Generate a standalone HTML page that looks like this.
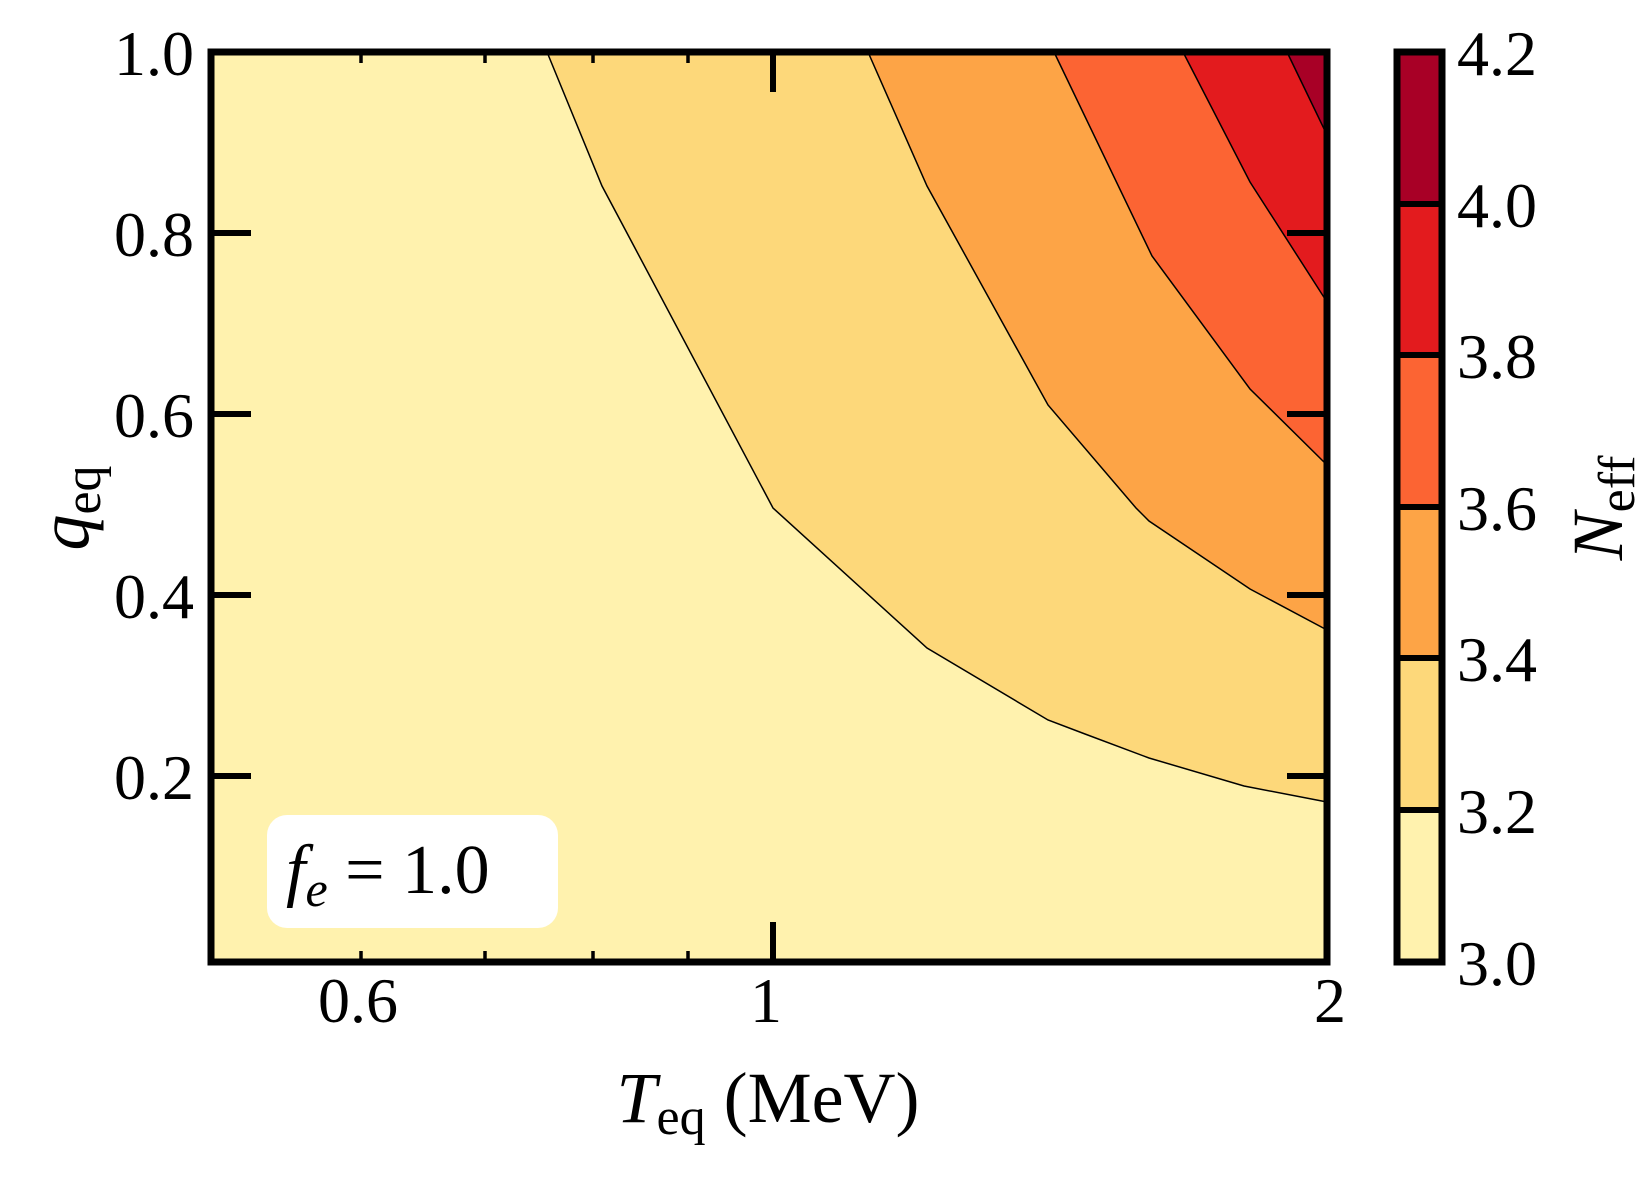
<!DOCTYPE html>
<html><head><meta charset="utf-8"><style>
html,body{margin:0;padding:0;background:#fff;}
svg{display:block;}
text{font-family:"Liberation Serif",serif;fill:#000;}
</style></head><body>
<svg width="1652" height="1179" viewBox="0 0 1652 1179" xmlns="http://www.w3.org/2000/svg">
<rect width="1652" height="1179" fill="#fff"/>
<rect x="211" y="52" width="1116" height="910" fill="#fff2ae"/>
<polygon points="547,52 602,186 773,508 927,648 1048,720 1085,734 1149,758 1244,786 1327,802 1327,52" fill="#fdd87a"/>
<polygon points="868,52 927,186 1048,405 1136,508 1149,521 1250,589 1327,630 1327,52" fill="#fda446"/>
<polygon points="1054,52 1152,256 1250,389 1327,465 1327,52" fill="#fc6433"/>
<polygon points="1183,52 1250,182 1327,302 1327,52" fill="#e31b1e"/>
<polygon points="1287,52 1327,135 1327,52" fill="#a80026"/>
<g fill="none" stroke="#000" stroke-width="1.5">
<polyline points="547,52 602,186 773,508 927,648 1048,720 1085,734 1149,758 1244,786 1327,802"/>
<polyline points="868,52 927,186 1048,405 1136,508 1149,521 1250,589 1327,630"/>
<polyline points="1054,52 1152,256 1250,389 1327,465"/>
<polyline points="1183,52 1250,182 1327,302"/>
<polyline points="1287,52 1327,135"/>
</g>
<rect x="267" y="815" width="291" height="113" rx="20" fill="#fff"/>
<text x="286" y="893" font-size="70" font-style="italic">f<tspan font-size="50" dy="13">e</tspan><tspan dy="-13" font-style="normal"> = 1.0</tspan></text>
<g stroke="#000" stroke-width="6">
<line x1="211" y1="233" x2="251" y2="233"/><line x1="211" y1="414" x2="251" y2="414"/><line x1="211" y1="595" x2="251" y2="595"/><line x1="211" y1="776" x2="251" y2="776"/>
<line x1="1327" y1="233" x2="1287" y2="233"/><line x1="1327" y1="414" x2="1287" y2="414"/><line x1="1327" y1="595" x2="1287" y2="595"/><line x1="1327" y1="776" x2="1287" y2="776"/>
<line x1="773" y1="962" x2="773" y2="922"/><line x1="773" y1="52" x2="773" y2="92"/>
</g>
<g stroke="#000" stroke-width="3.5">
<line x1="361" y1="962" x2="361" y2="951"/><line x1="485" y1="962" x2="485" y2="951"/><line x1="593" y1="962" x2="593" y2="951"/><line x1="688" y1="962" x2="688" y2="951"/>
<line x1="361" y1="52" x2="361" y2="63"/><line x1="485" y1="52" x2="485" y2="63"/><line x1="593" y1="52" x2="593" y2="63"/><line x1="688" y1="52" x2="688" y2="63"/>
</g>
<rect x="211" y="52" width="1116" height="910" fill="none" stroke="#000" stroke-width="7"/>
<g font-size="64" text-anchor="end">
<text x="194" y="75">1.0</text><text x="194" y="256">0.8</text><text x="194" y="437">0.6</text><text x="194" y="618">0.4</text><text x="194" y="799">0.2</text>
</g>
<g font-size="64" text-anchor="middle">
<text x="358" y="1022">0.6</text><text x="766" y="1022">1</text><text x="1330" y="1022">2</text>
</g>
<text x="768" y="1122" font-size="72" text-anchor="middle"><tspan font-style="italic">T</tspan><tspan font-size="52" dy="12">eq</tspan><tspan dy="-12"> (MeV)</tspan></text>
<text transform="translate(88,508) rotate(-90)" font-size="72" text-anchor="middle"><tspan font-style="italic">q</tspan><tspan font-size="52" dy="12">eq</tspan></text>
<rect x="1397" y="52" width="45" height="152" fill="#a80026"/>
<rect x="1397" y="204" width="45" height="151" fill="#e31b1e"/>
<rect x="1397" y="355" width="45" height="152" fill="#fc6433"/>
<rect x="1397" y="507" width="45" height="151" fill="#fda446"/>
<rect x="1397" y="658" width="45" height="152" fill="#fdd87a"/>
<rect x="1397" y="810" width="45" height="152" fill="#fff2ae"/>
<g stroke="#000" stroke-width="6">
<line x1="1397" y1="204" x2="1442" y2="204"/><line x1="1397" y1="355" x2="1442" y2="355"/><line x1="1397" y1="507" x2="1442" y2="507"/><line x1="1397" y1="658" x2="1442" y2="658"/><line x1="1397" y1="810" x2="1442" y2="810"/>
</g>
<rect x="1397" y="52" width="45" height="910" fill="none" stroke="#000" stroke-width="7"/>
<g font-size="64">
<text x="1457" y="75">4.2</text><text x="1457" y="227">4.0</text><text x="1457" y="378">3.8</text><text x="1457" y="530">3.6</text><text x="1457" y="681">3.4</text><text x="1457" y="833">3.2</text><text x="1457" y="985">3.0</text>
</g>
<text transform="translate(1622,508) rotate(-90)" font-size="72" text-anchor="middle"><tspan font-style="italic">N</tspan><tspan font-size="52" dy="12">eff</tspan></text>
</svg>
</body></html>
